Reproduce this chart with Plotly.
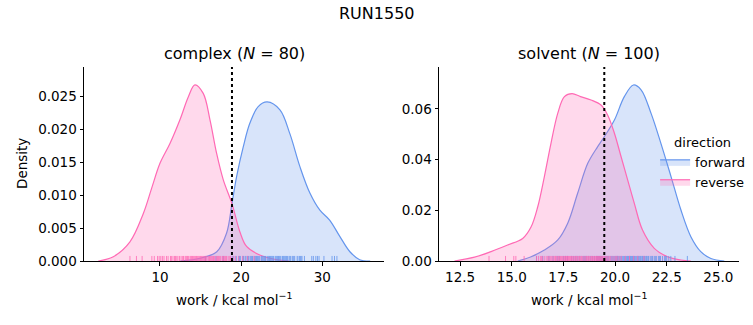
import plotly.graph_objects as go

# ---------------- data ----------------
# KDE curves (x = work, y = density)
complex_fwd_x = [12.5, 14.9, 17.0, 18.2, 18.87, 19.44, 20.26, 21.08, 22.1, 23.2, 24.78, 26.0, 27.24, 28.47, 29.7, 30.9, 32.17, 33.4, 34.6, 35.9]
complex_fwd_y = [0, 0.0004, 0.0014, 0.0042, 0.0087, 0.0128, 0.0173, 0.0209, 0.0234, 0.0241, 0.0229, 0.0193, 0.0143, 0.0103, 0.0077, 0.0062, 0.0037, 0.0014, 0.0002, 0]
complex_rev_x = [2.4, 4.25, 6.3, 7.95, 8.97, 10.0, 11.23, 12.46, 13.5, 14.3, 15.33, 16.16, 16.98, 17.8, 18.87, 19.85, 20.67, 22.3, 23.95, 25.9]
complex_rev_y = [0, 0.00065, 0.0029, 0.0072, 0.011, 0.0148, 0.0178, 0.0214, 0.0249, 0.0267, 0.0254, 0.0214, 0.0163, 0.0123, 0.0087, 0.0044, 0.0022, 0.0009, 0.0003, 0]

solvent_fwd_x = [15.29, 15.94, 16.58, 17.23, 17.71, 18.19, 18.68, 19.16, 19.48, 19.97, 20.45, 20.89, 21.26, 21.74, 22.22, 22.71, 23.19, 23.67, 24.15, 24.64, 25.29]
solvent_fwd_y = [0, 0.0017, 0.0043, 0.0083, 0.0149, 0.0267, 0.0385, 0.0451, 0.049, 0.0556, 0.0648, 0.0694, 0.0675, 0.0583, 0.0464, 0.0333, 0.0201, 0.0096, 0.0037, 0.001, 0]
solvent_rev_x = [12.23, 13.2, 14.0, 14.8, 15.53, 15.94, 16.26, 16.58, 16.9, 17.23, 17.55, 17.92, 18.33, 18.84, 19.32, 19.64, 19.97, 20.29, 20.61, 20.93, 21.33, 21.9, 22.54, 23.19, 23.67]
solvent_rev_y = [0, 0.0015, 0.0037, 0.0063, 0.0089, 0.0135, 0.0214, 0.0333, 0.0464, 0.0583, 0.0648, 0.066, 0.0648, 0.0635, 0.0615, 0.0576, 0.0504, 0.0412, 0.032, 0.0228, 0.0122, 0.005, 0.0017, 0.0004, 0]

# rug samples (estimated positions)
complex_fwd_samples = [15.6, 16.9, 17.8, 18.9, 19.1, 19.4, 19.7, 19.9, 20.2, 20.3, 20.6, 20.8, 20.9, 21.1, 21.3, 21.4, 21.6, 21.8, 21.9, 22.0, 22.2, 22.3, 22.5, 22.6, 22.8, 22.9, 23.0, 23.2, 23.3, 23.5, 23.6, 23.8, 23.9, 24.0, 24.2, 24.3, 24.5, 24.6, 24.8, 24.9, 25.1, 25.2, 25.4, 25.5, 25.7, 25.9, 26.0, 26.1, 26.3, 26.5, 26.6, 26.9, 27.0, 27.2, 27.4, 27.5, 27.8, 28.7, 28.9, 29.2, 29.4, 29.6, 30.2, 31.2, 31.5, 31.8, 22.1, 23.4, 24.4, 21.2, 25.3, 26.4, 20.5, 27.3, 19.8, 23.7, 24.7, 22.7, 21.7, 25.6]
complex_rev_samples = [6.3, 7.1, 7.8, 9.0, 9.3, 9.7, 9.9, 10.3, 10.5, 10.8, 11.0, 11.3, 11.4, 11.8, 11.9, 12.2, 12.4, 12.6, 12.8, 12.9, 13.1, 13.2, 13.4, 13.5, 13.7, 13.8, 13.9, 14.0, 14.2, 14.3, 14.4, 14.5, 14.6, 14.7, 14.9, 15.0, 15.1, 15.2, 15.3, 15.5, 15.6, 15.7, 15.8, 16.0, 16.1, 16.2, 16.4, 16.5, 16.6, 16.7, 16.9, 17.0, 17.1, 17.3, 17.4, 17.5, 17.7, 17.8, 17.9, 18.1, 18.2, 18.4, 18.6, 18.7, 19.0, 19.3, 19.7, 20.2, 20.8, 21.6, 10.1, 11.6, 12.0, 13.3, 14.1, 14.8, 15.4, 16.3, 17.2, 18.0]
solvent_fwd_samples = [16.2, 16.5, 16.8, 17.0, 17.3, 17.5, 17.7, 17.9, 18.0, 18.2, 18.3, 18.5, 18.6, 18.7, 18.9, 19.0, 19.1, 19.2, 19.3, 19.4, 19.5, 19.6, 19.7, 19.8, 19.9, 20.0, 20.05, 20.1, 20.2, 20.25, 20.3, 20.4, 20.45, 20.5, 20.6, 20.65, 20.7, 20.75, 20.8, 20.85, 20.9, 20.95, 21.0, 21.05, 21.1, 21.15, 21.2, 21.25, 21.3, 21.35, 21.4, 21.45, 21.5, 21.55, 21.6, 21.7, 21.75, 21.8, 21.9, 22.0, 22.1, 22.2, 22.3, 22.4, 22.5, 22.6, 22.7, 22.9, 23.5, 18.8, 19.15, 19.55, 19.85, 20.15, 20.35, 20.55, 20.85, 21.12, 21.33, 21.62, 17.6, 18.1, 18.45, 19.25, 19.65, 20.12, 20.62, 20.92, 21.22, 21.52, 21.82, 22.15, 22.45, 17.2, 18.55, 19.35, 19.95, 20.72, 21.42, 21.95]
solvent_rev_samples = [13.9, 14.7, 15.1, 15.2, 15.6, 16.2, 16.3, 16.4, 16.5, 16.6, 16.7, 16.8, 16.85, 16.9, 17.0, 17.05, 17.1, 17.15, 17.2, 17.25, 17.3, 17.35, 17.4, 17.45, 17.5, 17.55, 17.6, 17.65, 17.7, 17.75, 17.8, 17.85, 17.9, 17.95, 18.0, 18.05, 18.1, 18.15, 18.2, 18.25, 18.3, 18.35, 18.4, 18.45, 18.5, 18.55, 18.6, 18.65, 18.7, 18.75, 18.8, 18.85, 18.9, 18.95, 19.0, 19.05, 19.1, 19.15, 19.2, 19.25, 19.3, 19.35, 19.4, 19.45, 19.5, 19.55, 19.6, 19.7, 19.8, 19.9, 20.0, 20.1, 20.2, 20.3, 20.5, 20.7, 20.9, 21.1, 21.4, 16.45, 16.95, 17.12, 17.38, 17.62, 17.88, 18.12, 18.38, 18.62, 18.88, 19.12, 19.38, 19.62, 16.75, 17.28, 17.72, 18.28, 18.72, 19.28, 19.75, 20.05]

dotted_lines = [18.87, 19.48]
panel_titles = ["complex (<i>N</i> = 80)", "solvent (<i>N</i> = 100)"]
x_tickvals = [[10, 20, 30], [12.5, 15.0, 17.5, 20.0, 22.5, 25.0]]
y_tickvals = [[0, 0.005, 0.010, 0.015, 0.020, 0.025], [0, 0.02, 0.04, 0.06]]
x_ranges = [[0.64, 37.6], [11.48, 26.0]]
y_ranges = [[0, 0.0294], [0, 0.0765]]

BLUE = "#6495ED"
PINK = "#FF69B4"
BLUE_FILL = "rgba(100,149,237,0.25)"
PINK_FILL = "rgba(255,105,180,0.25)"
FONT = "DejaVu Sans"
TICK = 13.5
LABEL = 13.5
LEG = 13
BIG = 16

fig = go.Figure()

panels = [
    (complex_fwd_x, complex_fwd_y, complex_rev_x, complex_rev_y, complex_fwd_samples, complex_rev_samples),
    (solvent_fwd_x, solvent_fwd_y, solvent_rev_x, solvent_rev_y, solvent_fwd_samples, solvent_rev_samples),
]

for i, (fx, fy, rx, ry, fs, rs) in enumerate(panels):
    xa = "x" if i == 0 else "x2"
    ya = "y" if i == 0 else "y2"
    fig.add_trace(go.Scatter(x=fx, y=fy, mode="lines", line=dict(color=BLUE, width=1.2, shape="spline", smoothing=1.0),
                             fill="tozeroy", fillcolor=BLUE_FILL, name="forward", legendgroup="forward",
                             showlegend=(i == 1), xaxis=xa, yaxis=ya))
    fig.add_trace(go.Scatter(x=rx, y=ry, mode="lines", line=dict(color=PINK, width=1.2, shape="spline", smoothing=1.0),
                             fill="tozeroy", fillcolor=PINK_FILL, name="reverse", legendgroup="reverse",
                             showlegend=(i == 1), xaxis=xa, yaxis=ya))
    h = 0.026 * y_ranges[i][1]
    for samples, col in ((fs, BLUE), (rs, PINK)):
        xs, ys = [], []
        for v in samples:
            xs += [v, v, None]
            ys += [0, h, None]
        fig.add_trace(go.Scatter(x=xs, y=ys, mode="lines", line=dict(color=col, width=1), opacity=0.8,
                                 showlegend=False, hoverinfo="skip", xaxis=xa, yaxis=ya))
    fig.add_trace(go.Scatter(x=[dotted_lines[i], dotted_lines[i]], y=[0, y_ranges[i][1]], mode="lines",
                             line=dict(color="black", width=2, dash="dot"), showlegend=False,
                             hoverinfo="skip", xaxis=xa, yaxis=ya))

W, H = 753, 325
domains_x = [[84 / W, 384 / W], [439 / W, 739 / W]]
dom_y = [(H - 261) / H, (H - 67) / H]

axis_common = dict(showline=True, linecolor="black", linewidth=1, ticks="outside", ticklen=3.5,
                   tickcolor="black", tickwidth=1, showgrid=False, zeroline=False, automargin=False,
                   tickfont=dict(family=FONT, size=TICK, color="black"))

fig.update_layout(
    width=W, height=H, margin=dict(l=0, r=0, t=0, b=0, pad=0, autoexpand=False),
    plot_bgcolor="white", paper_bgcolor="white",
    font=dict(family=FONT, color="black"),
    xaxis=dict(domain=domains_x[0], range=x_ranges[0], tickvals=x_tickvals[0], anchor="y", **axis_common),
    yaxis=dict(domain=dom_y, range=y_ranges[0], tickvals=y_tickvals[0], tickformat=".3f", anchor="x", **axis_common),
    xaxis2=dict(domain=domains_x[1], range=x_ranges[1], tickvals=x_tickvals[1], tickformat=".1f", anchor="y2", **axis_common),
    yaxis2=dict(domain=dom_y, range=y_ranges[1], tickvals=y_tickvals[1], tickformat=".2f", anchor="x2", **axis_common),
    legend=dict(title=dict(text="direction", font=dict(family=FONT, size=LEG, color="black"), side="top center"),
                font=dict(family=FONT, size=LEG, color="black"), x=0.87, y=0.6, xanchor="left", yanchor="top",
                bgcolor="rgba(0,0,0,0)", tracegroupgap=0, itemwidth=30),
    showlegend=True,
)

annotations = [
    dict(text="RUN1550", x=0.5, y=1 - 13 / H, xref="paper", yref="paper", showarrow=False,
         font=dict(family=FONT, size=BIG, color="black"), xanchor="center", yanchor="middle"),
    dict(text=panel_titles[0], x=sum(domains_x[0]) / 2, y=1 - 54 / H, xref="paper", yref="paper", showarrow=False,
         font=dict(family=FONT, size=BIG, color="black"), xanchor="center", yanchor="middle"),
    dict(text=panel_titles[1], x=sum(domains_x[1]) / 2, y=1 - 54 / H, xref="paper", yref="paper", showarrow=False,
         font=dict(family=FONT, size=BIG, color="black"), xanchor="center", yanchor="middle"),
    dict(text="work / kcal mol<sup>−1</sup>", x=sum(domains_x[0]) / 2, y=1 - 299 / H, xref="paper", yref="paper",
         showarrow=False, font=dict(family=FONT, size=LABEL, color="black"), xanchor="center", yanchor="middle"),
    dict(text="work / kcal mol<sup>−1</sup>", x=sum(domains_x[1]) / 2, y=1 - 299 / H, xref="paper", yref="paper",
         showarrow=False, font=dict(family=FONT, size=LABEL, color="black"), xanchor="center", yanchor="middle"),
    dict(text="Density", x=22 / W, y=1 - 164 / H, xref="paper", yref="paper", textangle=-90,
         showarrow=False, font=dict(family=FONT, size=LABEL, color="black"), xanchor="center", yanchor="middle"),
]
fig.update_layout(annotations=annotations)

fig.write_html("out.html")
